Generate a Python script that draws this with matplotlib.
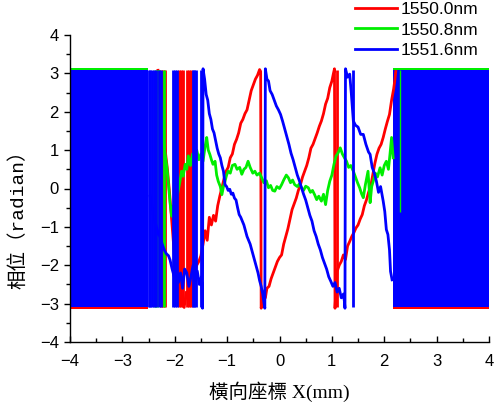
import matplotlib
matplotlib.use('Agg')
import matplotlib.pyplot as plt
from matplotlib.ticker import MultipleLocator

# ---- data ----
labels = ["1550.0nm", "1550.8nm", "1551.6nm"]
colors = ["#ff0000", "#00ee00", "#0000ff"]

# saturated (wrapped noise) regions on both sides
noise_left = [-4.0, -2.52]
noise_right = [2.17, 4.0]
wrap_lo, wrap_hi = -3.1, 3.1

red_x = [-2.32, -2.29, -2.26, -2.23, -2.20, -2.17, -2.14, -2.10, -2.06, -2.02,
         -1.98, -1.94, -1.90, -1.86, -1.82, -1.78, -1.74, -1.70, -1.66, -1.62,
         -1.58, -1.54, -1.50, -1.46, -1.42, -1.38, -1.34, -1.30, -1.26, -1.22,
         -1.18, -1.14, -1.10, -1.06, -1.02, -0.98, -0.94, -0.90, -0.86, -0.82,
         -0.78, -0.74, -0.70, -0.66, -0.62, -0.58, -0.54, -0.50, -0.46, -0.42,
         -0.38, -0.36, -0.35, -0.33, -0.30, -0.27, -0.24, -0.20, -0.16, -0.12,
         -0.08, -0.04, 0.00, 0.04, 0.08, 0.12, 0.16, 0.20, 0.24, 0.28,
         0.32, 0.36, 0.40, 0.44, 0.48, 0.52, 0.56, 0.60, 0.64, 0.68,
         0.72, 0.76, 0.80, 0.84, 0.88, 0.92, 0.96, 1.00, 1.03, 1.05,
         1.06, 1.08, 1.10, 1.14, 1.18, 1.22, 1.26, 1.30, 1.34, 1.38,
         1.42, 1.46, 1.50, 1.54, 1.58, 1.62, 1.66, 1.70, 1.74, 1.78,
         1.82, 1.86, 1.90, 1.94, 1.98, 2.02, 2.06, 2.10, 2.14, 2.18,
         2.20, 2.22]
red_y = [3.08, 2.60, 2.10, 1.60, 1.20, 0.85, 0.50, -0.10, -0.80, -1.50,
         -2.20, -2.70, -3.05, -2.80, -3.10, -2.70, -2.90, -2.60, -2.40, -2.20,
         -2.00, -1.90, -1.75, -1.45, -1.10, -1.35, -0.75, -0.95, -0.70, -0.85,
         -0.45, -0.20, 0.02, 0.25, 0.45, 0.55, 0.80, 0.90, 1.15, 1.28,
         1.45, 1.70, 1.80, 1.95, 2.05, 2.30, 2.55, 2.70, 2.85, 2.95,
         3.10, 3.05, -3.12, -2.95, -2.80, -2.85, -2.60, -2.55, -2.35, -2.20,
         -2.05, -1.90, -1.80, -1.73, -1.45, -1.25, -1.05, -0.80, -0.55, -0.40,
         -0.25, -0.05, 0.10, 0.30, 0.45, 0.60, 0.80, 1.05, 1.15, 1.30,
         1.45, 1.62, 1.76, 1.95, 2.20, 2.35, 2.63, 2.80, 3.00, 3.12,
         -3.12, -2.60, -2.16, -2.00, -1.90, -1.73, -1.85, -1.50, -1.38, -1.25,
         -1.15, -1.03, -0.95, -0.80, -0.68, -0.45, -0.30, -0.10, 0.05, 0.35,
         0.65, 0.89, 1.05, 1.15, 1.33, 1.55, 1.75, 1.93, 2.30, 2.60,
         2.80, 3.05]

green_x = [-2.30, -2.27, -2.24, -2.21, -2.18, -2.15, -2.12, -2.09, -2.06, -2.03,
           -2.00, -1.97, -1.94, -1.90, -1.87, -1.84, -1.80, -1.77, -1.74, -1.70,
           -1.66, -1.62, -1.58, -1.54, -1.50, -1.46, -1.42, -1.39, -1.36, -1.33,
           -1.30, -1.27, -1.23, -1.20, -1.17, -1.13, -1.10, -1.07, -1.04, -1.01,
           -0.98, -0.94, -0.90, -0.85, -0.81, -0.76, -0.72, -0.68, -0.64, -0.60,
           -0.56, -0.51, -0.47, -0.43, -0.38, -0.34, -0.30, -0.25, -0.21, -0.17,
           -0.13, -0.09, -0.05, 0.00, 0.04, 0.08, 0.13, 0.17, 0.21, 0.25,
           0.29, 0.34, 0.38, 0.42, 0.46, 0.50, 0.55, 0.59, 0.63, 0.67,
           0.71, 0.75, 0.80, 0.84, 0.88, 0.92, 0.96, 1.00, 1.04, 1.08,
           1.12, 1.16, 1.20, 1.24, 1.28, 1.32, 1.36, 1.41, 1.45, 1.49,
           1.53, 1.57, 1.60, 1.64, 1.69, 1.73, 1.76, 1.79, 1.83, 1.87,
           1.92, 1.96, 2.00, 2.04, 2.08, 2.11, 2.14, 2.17]
green_y = [3.05, 2.40, 1.80, 1.20, 0.85, 0.55, 0.10, -0.37, -0.72, -0.45,
           -0.55, -0.37, -0.10, 0.19, 0.45, 0.32, 0.63, 0.50, 0.85, 0.60,
           0.90, 0.70, 1.00, 0.75, 0.90, 0.71, 1.10, 1.33, 1.00, 0.89,
           0.75, 0.63, 0.71, 0.35, 0.19, 0.05, -0.16, 0.05, 0.19, 0.35,
           0.45, 0.40, 0.60, 0.63, 0.50, 0.55, 0.37, 0.50, 0.55, 0.71,
           0.55, 0.40, 0.45, 0.35, 0.40, 0.28, 0.15, 0.20, 0.02, 0.08,
           -0.05, -0.07, 0.05, 0.00, 0.10, 0.22, 0.35, 0.28, 0.15, 0.22,
           0.10, 0.05, 0.12, 0.02, -0.05, 0.06, 0.02, -0.10, -0.05, -0.16,
           -0.29, -0.20, -0.33, -0.15, -0.42, -0.05, 0.19, 0.35, 0.63, 0.85,
           0.93, 1.06, 0.90, 0.80, 0.71, 0.55, 0.60, 0.45, 0.30, 0.15,
           0.02, -0.15, -0.24, 0.10, 0.45, -0.37, 0.05, 0.19, 0.40, 0.30,
           0.54, 0.35, 0.60, 0.71, 0.50, 0.90, 1.33, 0.80]

blue_x = [-2.47, -2.43, -2.39, -2.35, -2.31, -2.28, -2.24, -2.20, -2.16, -2.12,
          -2.09, -2.05, -2.01, -1.97, -1.93, -1.89, -1.85, -1.81, -1.77, -1.73,
          -1.69, -1.65, -1.61, -1.57, -1.53, -1.49, -1.47, -1.46, -1.43, -1.40,
          -1.37, -1.34, -1.31, -1.28, -1.25, -1.22, -1.19, -1.16, -1.13, -1.10,
          -1.07, -1.04, -1.01, -0.98, -0.95, -0.92, -0.89, -0.86, -0.83, -0.80,
          -0.77, -0.74, -0.71, -0.68, -0.65, -0.62, -0.59, -0.56, -0.53, -0.50,
          -0.47, -0.44, -0.41, -0.38, -0.35, -0.32, -0.30, -0.28, -0.27, -0.24,
          -0.21, -0.18, -0.14, -0.10, -0.06, -0.02, 0.02, 0.06, 0.10, 0.14,
          0.18, 0.22, 0.26, 0.30, 0.34, 0.38, 0.42, 0.46, 0.50, 0.54,
          0.58, 0.62, 0.66, 0.70, 0.74, 0.78, 0.82, 0.86, 0.90, 0.94,
          0.98, 1.02, 1.06, 1.10, 1.14, 1.18, 1.22, 1.24, 1.25, 1.26,
          1.30, 1.34, 1.37, 1.41, 1.45, 1.50, 1.55, 1.60, 1.65, 1.70,
          1.73, 1.77, 1.81, 1.85, 1.89, 1.93, 1.98, 2.01, 2.04, 2.07,
          2.10, 2.12, 2.15]
blue_y = [-0.20, -0.50, -0.80, -1.00, -1.20, -1.25, -1.45, -1.60, -1.70, -1.75,
          -1.86, -2.10, -2.30, -2.00, -2.45, -2.20, -2.60, -2.10, -2.20, -2.55,
          -2.30, -2.00, -2.40, -2.15, -2.50, -2.30, -3.12, 3.12, 2.85, 2.45,
          2.30, 1.95, 1.80, 1.55, 1.45, 1.25, 1.05, 0.90, 0.80, 0.60,
          0.45, 0.10, 0.05, -0.05, -0.02, -0.15, -0.12, -0.25, -0.30, -0.50,
          -0.68, -0.75, -0.85, -0.95, -1.10, -1.25, -1.35, -1.45, -1.60, -1.75,
          -1.90, -2.05, -2.20, -2.40, -2.55, -2.75, -2.95, -3.12, 3.12, 2.85,
          2.80, 2.55, 2.45, 2.30, 2.15, 2.05, 1.93, 1.75, 1.55, 1.35,
          1.15, 0.92, 0.75, 0.55, 0.35, 0.20, 0.02, -0.15, -0.30, -0.50,
          -0.70, -0.85, -1.10, -1.25, -1.45, -1.60, -1.80, -1.95, -2.10, -2.30,
          -2.42, -2.55, -2.45, -2.70, -2.60, -2.85, -2.75, -2.95, -3.12, 3.12,
          2.90, 2.98, 2.50, 1.76, 1.65, 1.60, 1.41, 1.41, 1.15, 0.95,
          0.89, 0.55, 0.40, 0.19, -0.10, 0.05, -0.33, -0.60, -1.07, -1.20,
          -1.60, -2.16, -2.38]

# full-height wrap flicker lines in the transition zones
red_spikes = [-2.26, -2.22, -2.19, -1.92, -1.88, -1.85, -1.77, -1.73, -1.69, 1.09]
green_spikes = [-2.37, -2.33, -2.21]
blue_spikes = [-2.50, -2.47, -2.44, -2.40, -2.36, -2.31, -2.27, -2.03, -2.00,
               -1.96, -1.66, -1.63, -1.60, -1.50, 1.40]
green_over_x, green_over_lo = [2.31], [-0.6]

# ---- figure ----
fig = plt.figure(figsize=(4.97, 4.03), dpi=100)
ax = fig.add_axes([70 / 497, 61 / 403, 419 / 497, 307 / 403])

lw = 2.0
for blk in (noise_left, noise_right):
    ax.fill_between(blk, wrap_lo - 0.05, wrap_hi - 0.02, color=colors[0], lw=0)
    ax.fill_between(blk, wrap_lo + 0.02, wrap_hi + 0.05, color=colors[1], lw=0)
    ax.fill_between(blk, wrap_lo, wrap_hi, color=colors[2], lw=0)

ax.vlines(red_spikes, wrap_lo, wrap_hi, color=colors[0], lw=lw)
l1, = ax.plot(red_x, red_y, color=colors[0], lw=lw, label=labels[0])
ax.vlines(green_spikes, wrap_lo, wrap_hi, color=colors[1], lw=lw)
l2, = ax.plot(green_x, green_y, color=colors[1], lw=lw, label=labels[1])
ax.vlines(blue_spikes, wrap_lo, wrap_hi, color=colors[2], lw=lw)
l3, = ax.plot(blue_x, blue_y, color=colors[2], lw=lw, label=labels[2])
ax.vlines(green_over_x, green_over_lo, wrap_hi, color=colors[1], lw=1.0)

ax.set_xlim(-4, 4)
ax.set_ylim(-4, 4)
ax.xaxis.set_major_locator(MultipleLocator(1))
ax.xaxis.set_minor_locator(MultipleLocator(0.5))
ax.yaxis.set_major_locator(MultipleLocator(1))
ax.yaxis.set_minor_locator(MultipleLocator(0.5))
ax.spines['top'].set_visible(False)
ax.spines['right'].set_visible(False)
for s in ('left', 'bottom'):
    ax.spines[s].set_linewidth(1.0)
ax.tick_params(axis='x', which='major', direction='in', length=4, width=1, pad=9)
ax.tick_params(axis='x', which='minor', direction='in', length=3, width=1)
ax.tick_params(axis='y', which='major', direction='out', length=4, width=1, pad=4)
ax.tick_params(axis='y', which='minor', direction='out', length=3, width=1)
for t in ax.get_xticklabels() + ax.get_yticklabels():
    t.set_fontfamily('Liberation Sans')
    t.set_fontsize(12)

ax.set_xlabel("橫向座標 X(mm)", fontsize=14,
              family=['Liberation Serif', 'Noto Sans CJK TC'])
ax.xaxis.set_label_coords(0.5, -0.13)
fig.text(18 / 497, 1 - 215 / 403, "相位（radian）", rotation=90,
         ha='center', va='center', fontsize=14,
         family=['Liberation Mono', 'Noto Sans CJK TC'])

fig.legend(handles=[l1, l2, l3], loc='upper left',
           bbox_to_anchor=(355 / 497, 1 - 2 / 403), frameon=False,
           prop={'family': 'Liberation Sans', 'size': 12.5},
           handlelength=2.4, handletextpad=0.25, labelspacing=0.3,
           borderpad=0, borderaxespad=0)

fig.savefig("out.png", dpi=100)
